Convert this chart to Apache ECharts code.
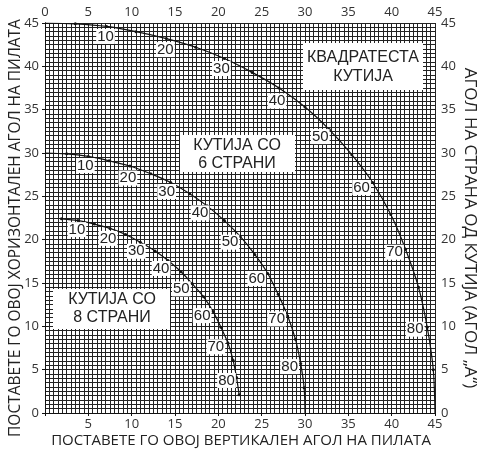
<!DOCTYPE html>
<html>
<head>
<meta charset="utf-8">
<script src="https://cdn.jsdelivr.net/npm/echarts@6/dist/echarts.min.js"></script>
<style>
  html, body { margin: 0; padding: 0; background: #fff; }
  #chart { width: 481px; height: 452px; }
</style>
</head>
<body>
<div id="chart"></div>
<script>
// агол на страна од кутија (А), на секои 5 степени
var sideAngles = [0, 5, 10, 15, 20, 25, 30, 35, 40, 45, 50, 55, 60, 65, 70, 75, 80, 85, 90];

// квадратеста кутија
var squareVert = [0, 3.5, 7.1, 10.5, 14.0, 17.4, 20.7, 23.9, 27.0, 30.0, 32.8, 35.4, 37.8, 39.9, 41.6, 43.1, 44.1, 44.8, 45];
var squareHoriz = [45, 44.9, 44.6, 44.0, 43.2, 42.2, 40.9, 39.3, 37.5, 35.3, 32.7, 29.8, 26.6, 22.9, 18.9, 14.5, 9.9, 5.0, 0];

// кутија со 6 страни
var hexVert = [0, 2.5, 5.0, 7.4, 9.8, 12.2, 14.5, 16.7, 18.7, 20.7, 22.5, 24.2, 25.7, 26.9, 28.0, 28.9, 29.5, 29.9, 30];
var hexHoriz = [30, 29.9, 29.6, 29.1, 28.5, 27.6, 26.6, 25.3, 23.9, 22.2, 20.4, 18.3, 16.1, 13.7, 11.2, 8.5, 5.7, 2.9, 0];

// кутија со 8 страни (цртана од 5 до 85)
var octAngles = [5, 10, 15, 20, 25, 30, 35, 40, 45, 50, 55, 60, 65, 70, 75, 80, 85];
var octVert = [1.9, 3.8, 5.7, 7.5, 9.3, 11.0, 12.7, 14.2, 15.7, 17.0, 18.3, 19.4, 20.3, 21.1, 21.7, 22.1, 22.4];
var octHoriz = [22.4, 22.2, 21.8, 21.3, 20.6, 19.7, 18.7, 17.6, 16.3, 14.9, 13.4, 11.7, 9.9, 8.1, 6.1, 4.1, 2.1];

var axisTicks = [0, 5, 10, 15, 20, 25, 30, 35, 40, 45];

// поместување на ознаките 10..80 (px)
var squareLabelOff = [[-1, 10], [-1, 11], [-3, 10], [-2, 13], [-9, 7], [-11, 5], [-11, 3], [-12, 2]];
var hexLabelOff = [[-3, 9], [-2, 12], [-4, 9], [-7, 7], [-10, 6], [-11, 5], [-11, 3], [-11, 3]];
var octLabelOff = [[-1, 9], [-2, 10], [-4, 9], [-7, 8], [-11, 5], [-11, 4], [-12, 4], [-10, 3]];

var myChart = echarts.init(document.getElementById('chart'));

function curveData(angles, xs, ys, offs) {
  return angles.map(function (a, i) {
    var item = { value: [xs[i], ys[i]] };
    if (a === 0 || a === 90) item.symbolSize = 0;
    if (a % 10 === 0 && a > 0 && a < 90) {
      var o = offs[a / 10 - 1];
      item.label = { show: true, formatter: String(a), offset: o };
    }
    return item;
  });
}

function curve(name, angles, xs, ys, offs) {
  return {
    name: name,
    type: 'line',
    smooth: 0.3,
    showSymbol: true,
    symbol: 'circle',
    symbolSize: 3,
    itemStyle: { color: '#111' },
    lineStyle: { color: '#111', width: 1.2 },
    label: {
      show: false,
      position: 'inside',
      fontFamily: 'Liberation Sans',
      fontSize: 15,
      color: '#222',
      backgroundColor: '#fff',
      padding: [0, 1]
    },
    z: 5,
    animation: false,
    data: curveData(angles, xs, ys, offs)
  };
}

var gridLine = { show: true, lineStyle: { color: '#222', width: 1 } };
var tickFont = { fontFamily: 'Open Sans', fontSize: 13, color: '#333' };

function labelFmt(hideZero) {
  return function (v) {
    if (hideZero && v === 0) return '';
    return axisTicks.indexOf(v) >= 0 ? String(v) : '';
  };
}

var axisBase = {
  type: 'value',
  min: 0,
  max: 45,
  interval: 5,
  axisLine: { show: true, lineStyle: { color: '#111', width: 1 } },
  axisTick: { show: true, length: 3, lineStyle: { color: '#111' } }
};

myChart.setOption({
  backgroundColor: '#fff',
  animation: false,
  grid: { left: 45, right: 46, top: 23, bottom: 39 },
  xAxis: [
    Object.assign({}, axisBase, {
      position: 'bottom',
      axisLabel: Object.assign({ margin: 5, formatter: labelFmt(true) }, tickFont),
      splitLine: gridLine,
      minorTick: { show: false, splitNumber: 10 },
      minorSplitLine: gridLine
    }),
    Object.assign({}, axisBase, {
      position: 'top',
      axisLabel: Object.assign({ margin: 4, formatter: labelFmt(false) }, tickFont),
      splitLine: { show: false }
    })
  ],
  yAxis: [
    Object.assign({}, axisBase, {
      position: 'left',
      axisLabel: Object.assign({ margin: 6, formatter: labelFmt(false) }, tickFont),
      splitLine: gridLine,
      minorTick: { show: false, splitNumber: 10 },
      minorSplitLine: gridLine
    }),
    Object.assign({}, axisBase, {
      position: 'right',
      axisLabel: Object.assign({ margin: 6, formatter: labelFmt(false) }, tickFont),
      splitLine: { show: false }
    })
  ],
  series: [
    curve('квадратеста', sideAngles, squareVert, squareHoriz, squareLabelOff),
    curve('6 страни', sideAngles, hexVert, hexHoriz, hexLabelOff),
    curve('8 страни', octAngles, octVert, octHoriz, octLabelOff)
  ],
  graphic: [
    { type: 'rect', shape: { x: 303, y: 43, width: 120, height: 47 }, style: { fill: '#fff' }, z: 10 },
    { type: 'text', x: 363, y: 67, z: 11, style: { text: 'КВАДРАТЕСТА\nКУТИЈА', fill: '#222', font: '16px "Liberation Sans"', align: 'center', verticalAlign: 'middle', lineHeight: 19 } },
    { type: 'rect', shape: { x: 180, y: 135, width: 115, height: 37 }, style: { fill: '#fff' }, z: 10 },
    { type: 'text', x: 237, y: 155, z: 11, style: { text: 'КУТИЈА СО\n6 СТРАНИ', fill: '#222', font: '16px "Liberation Sans"', align: 'center', verticalAlign: 'middle', lineHeight: 18 } },
    { type: 'rect', shape: { x: 53, y: 289, width: 117, height: 40 }, style: { fill: '#fff' }, z: 10 },
    { type: 'text', x: 112, y: 309, z: 11, style: { text: 'КУТИЈА СО\n8 СТРАНИ', fill: '#222', font: '16px "Liberation Sans"', align: 'center', verticalAlign: 'middle', lineHeight: 18 } },
    { type: 'text', x: 241, y: 441, style: { text: 'ПОСТАВЕТЕ ГО ОВОЈ ВЕРТИКАЛЕН АГОЛ НА ПИЛАТА', fill: '#222', font: '15px "Open Sans"', align: 'center', verticalAlign: 'middle' } },
    { type: 'text', x: 16, y: 228, rotation: Math.PI / 2, style: { text: 'ПОСТАВЕТЕ ГО ОВОЈ ХОРИЗОНТАЛЕН АГОЛ НА ПИЛАТА', fill: '#222', font: '15.5px "Open Sans"', align: 'center', verticalAlign: 'middle' } },
    { type: 'text', x: 470, y: 228, rotation: -Math.PI / 2, style: { text: 'АГОЛ НА СТРАНА ОД КУТИЈА (АГОЛ „А“)', fill: '#222', font: '17px "Open Sans"', align: 'center', verticalAlign: 'middle' } }
  ]
});

window.addEventListener('resize', function () {
  myChart.resize();
});
</script>
</body>
</html>
